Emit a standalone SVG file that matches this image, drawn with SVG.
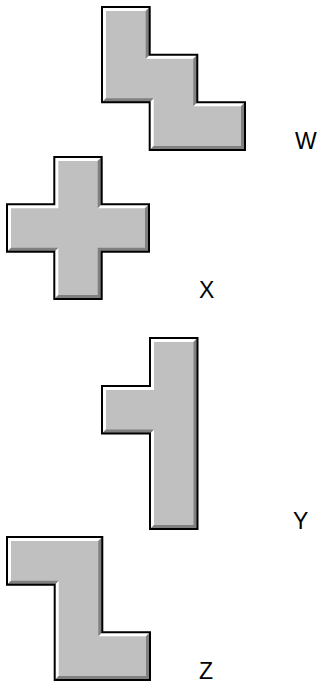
<svg xmlns="http://www.w3.org/2000/svg" width="328" height="691" viewBox="0 0 328 691">
<style>
.face{fill:#c0c0c0}
.hi{fill:#ffffff}
.sh{fill:#808080}
.edge{fill:none;stroke:#000000;stroke-width:2;stroke-linejoin:miter}
.lbl{font-family:"Liberation Sans",Arial,sans-serif;font-size:23px;fill:#000000}
</style>
<rect width="328" height="691" fill="#ffffff"/>
<g id="W">
<polygon class="face" points="102,7 149.7,7 149.7,54.7 197.3,54.7 197.3,102.3 245,102.3 245,150 149.7,150 149.7,102.3 102,102.3"/>
<path class="hi" d="M102,7 L149.7,7 L145.7,11 L106,11 Z M149.7,54.7 L197.3,54.7 L193.3,58.7 L145.7,58.7 Z M197.3,102.3 L245,102.3 L241,106.3 L193.3,106.3 Z M149.7,150 L149.7,102.3 L153.7,98.3 L153.7,146 Z M102,102.3 L102,7 L106,11 L106,98.3 Z"/>
<path class="sh" d="M149.7,7 L149.7,54.7 L145.7,58.7 L145.7,11 Z M197.3,54.7 L197.3,102.3 L193.3,106.3 L193.3,58.7 Z M245,102.3 L245,150 L241,146 L241,106.3 Z M245,150 L149.7,150 L153.7,146 L241,146 Z M149.7,102.3 L102,102.3 L106,98.3 L153.7,98.3 Z"/>
<polygon class="edge" points="102,7 149.7,7 149.7,54.7 197.3,54.7 197.3,102.3 245,102.3 245,150 149.7,150 149.7,102.3 102,102.3"/>
<text class="lbl" x="295" y="149">W</text>
</g>
<g id="X">
<polygon class="face" points="54.3,157 101.7,157 101.7,204.3 149,204.3 149,251.7 101.7,251.7 101.7,299 54.3,299 54.3,251.7 7,251.7 7,204.3 54.3,204.3"/>
<path class="hi" d="M54.3,157 L101.7,157 L97.7,161 L58.3,161 Z M101.7,204.3 L149,204.3 L145,208.3 L97.7,208.3 Z M54.3,299 L54.3,251.7 L58.3,247.7 L58.3,295 Z M7,251.7 L7,204.3 L11,208.3 L11,247.7 Z M7,204.3 L54.3,204.3 L58.3,208.3 L11,208.3 Z M54.3,204.3 L54.3,157 L58.3,161 L58.3,208.3 Z"/>
<path class="sh" d="M101.7,157 L101.7,204.3 L97.7,208.3 L97.7,161 Z M149,204.3 L149,251.7 L145,247.7 L145,208.3 Z M149,251.7 L101.7,251.7 L97.7,247.7 L145,247.7 Z M101.7,251.7 L101.7,299 L97.7,295 L97.7,247.7 Z M101.7,299 L54.3,299 L58.3,295 L97.7,295 Z M54.3,251.7 L7,251.7 L11,247.7 L58.3,247.7 Z"/>
<polygon class="edge" points="54.3,157 101.7,157 101.7,204.3 149,204.3 149,251.7 101.7,251.7 101.7,299 54.3,299 54.3,251.7 7,251.7 7,204.3 54.3,204.3"/>
<text class="lbl" x="199" y="298">X</text>
</g>
<g id="Y">
<polygon class="face" points="150,338 197.5,338 197.5,529 150,529 150,433.5 102,433.5 102,386 150,386"/>
<path class="hi" d="M150,338 L197.5,338 L193.5,342 L154,342 Z M150,529 L150,433.5 L154,429.5 L154,525 Z M102,433.5 L102,386 L106,390 L106,429.5 Z M102,386 L150,386 L154,390 L106,390 Z M150,386 L150,338 L154,342 L154,390 Z"/>
<path class="sh" d="M197.5,338 L197.5,529 L193.5,525 L193.5,342 Z M197.5,529 L150,529 L154,525 L193.5,525 Z M150,433.5 L102,433.5 L106,429.5 L154,429.5 Z"/>
<polygon class="edge" points="150,338 197.5,338 197.5,529 150,529 150,433.5 102,433.5 102,386 150,386"/>
<text class="lbl" x="293" y="529">Y</text>
</g>
<g id="Z">
<polygon class="face" points="7,537 102.3,537 102.3,632.3 150,632.3 150,680 54.7,680 54.7,584.7 7,584.7"/>
<path class="hi" d="M7,537 L102.3,537 L98.3,541 L11,541 Z M102.3,632.3 L150,632.3 L146,636.3 L98.3,636.3 Z M54.7,680 L54.7,584.7 L58.7,580.7 L58.7,676 Z M7,584.7 L7,537 L11,541 L11,580.7 Z"/>
<path class="sh" d="M102.3,537 L102.3,632.3 L98.3,636.3 L98.3,541 Z M150,632.3 L150,680 L146,676 L146,636.3 Z M150,680 L54.7,680 L58.7,676 L146,676 Z M54.7,584.7 L7,584.7 L11,580.7 L58.7,580.7 Z"/>
<polygon class="edge" points="7,537 102.3,537 102.3,632.3 150,632.3 150,680 54.7,680 54.7,584.7 7,584.7"/>
<text class="lbl" x="199" y="679">Z</text>
</g>
<g id="connectors"/>
</svg>
